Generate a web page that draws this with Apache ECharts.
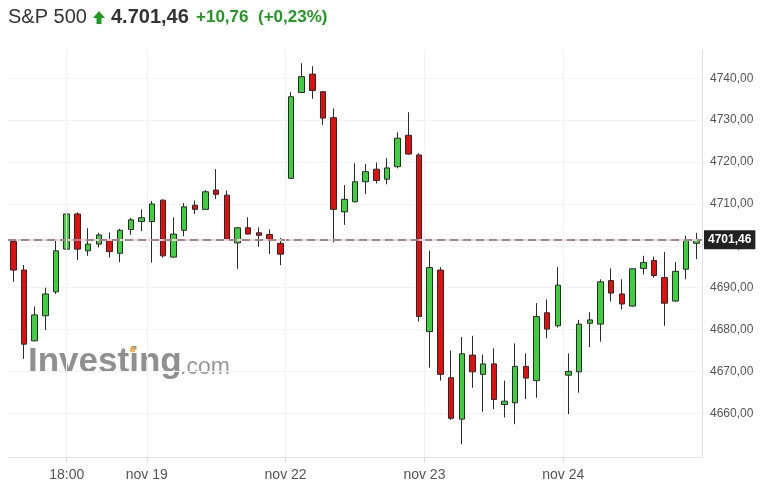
<!DOCTYPE html>
<html>
<head>
<meta charset="utf-8">
<script src="https://cdn.jsdelivr.net/npm/echarts@6/dist/echarts.min.js"></script>
<style>
html,body{margin:0;padding:0;background:#fff;}
#chart{width:781px;height:495px;}
</style>
</head>
<body>
<div id="chart"></div>
<script>
// ---- data ----
const days = ['nov 18', 'nov 19', 'nov 22', 'nov 23', 'nov 24'];
const times = ['15:30','16:00','16:30','17:00','17:30','18:00','18:30','19:00','19:30','20:00','20:30','21:00','21:30'];
const opens  = [4701.0,4694.2,4677.3,4683.3,4689.0,4699.2,4707.6,4698.8,4700.4,4701.4,4698.2,4703.9,4705.8,
                4705.8,4710.9,4697.3,4703.7,4709.7,4708.7,4713.3,4712.1,4700.7,4704.3,4703.1,4702.7,4700.6,
                4716.1,4736.6,4741.0,4736.8,4730.6,4708.1,4710.5,4715.3,4718.3,4715.9,4718.9,4726.4,4721.7,
                4679.5,4694.2,4668.5,4658.6,4673.9,4669.3,4671.8,4662.1,4662.5,4671.2,4667.8,4684.0,4680.9,
                4669.1,4669.9,4681.5,4681.3,4691.7,4688.5,4685.6,4694.6,4696.5,4692.4,4686.8,4694.4,4700.6];
const closes = [4694.2,4676.5,4683.5,4688.5,4698.8,4707.6,4699.2,4700.4,4702.6,4698.6,4703.7,4706.2,4706.7,
                4710.0,4697.6,4702.8,4709.3,4708.7,4712.9,4712.3,4701.3,4704.3,4702.8,4702.5,4701.3,4698.0,
                4735.6,4740.4,4737.1,4730.5,4708.7,4711.1,4715.3,4717.7,4715.6,4718.6,4725.7,4721.9,4683.1,
                4694.8,4669.3,4658.8,4674.2,4669.9,4671.8,4663.3,4662.9,4671.2,4668.4,4683.1,4680.1,4690.6,
                4670.0,4681.3,4682.3,4691.4,4688.7,4686.1,4694.5,4696.0,4692.9,4686.3,4693.9,4701.3,4701.46];
const lows   = [4691.4,4673.0,4677.2,4679.9,4688.5,4699.1,4696.6,4697.6,4699.6,4697.2,4696.1,4702.6,4703.5,
                4696.0,4697.2,4697.2,4702.3,4707.6,4708.6,4711.2,4701.2,4694.5,4702.7,4699.8,4698.0,4695.4,
                4716.0,4736.5,4735.1,4728.9,4700.8,4705.0,4710.4,4712.4,4714.9,4714.7,4718.5,4721.8,4681.9,
                4670.9,4667.8,4658.4,4652.6,4666.1,4660.4,4661.0,4659.0,4657.4,4663.4,4663.7,4677.9,4680.5,
                4659.8,4664.9,4675.8,4677.1,4686.7,4684.8,4685.5,4693.2,4692.4,4680.9,4686.7,4692.0,4696.8];
const highs  = [4701.3,4695.4,4685.5,4690.0,4701.2,4708.1,4708.0,4704.2,4703.1,4703.2,4704.1,4706.7,4708.7,
                4710.7,4711.1,4706.8,4710.2,4710.8,4713.3,4718.3,4713.2,4704.4,4706.8,4704.4,4703.9,4701.9,
                4736.7,4743.6,4742.9,4737.0,4732.8,4714.5,4719.7,4719.5,4719.9,4720.9,4727.1,4731.9,4722.1,
                4698.8,4694.9,4675.0,4678.2,4678.5,4674.0,4675.5,4667.8,4676.7,4674.3,4686.3,4687.2,4694.9,
                4674.3,4682.3,4684.2,4692.0,4694.6,4692.0,4694.6,4697.6,4697.4,4698.5,4696.1,4702.4,4703.1];
const lastPrice = 4701.46;
const yTicks = [4660, 4670, 4680, 4690, 4700, 4710, 4720, 4730, 4740];
const xTickPos = [5, 12.5, 25.5, 38.5, 51.5];
const xTickLabels = ['18:00', 'nov 19', 'nov 22', 'nov 23', 'nov 24'];
const headerName = 'S&P 500';
const headerPrice = '4.701,46';
const headerChange = '+10,76';
const headerPct = '(+0,23%)';

// ---- build ----
const categories = [];
days.forEach(d => times.forEach(t => categories.push(d + ' ' + t)));
const ohlc = opens.map((o, i) => [o, closes[i], lows[i], highs[i]]);
const fmt = v => v.toFixed(2).replace('.', ',');
const FONT = '"Liberation Sans", Arial, Helvetica, sans-serif';
const GREEN_TXT = '#1f9a1f';

const chart = echarts.init(document.getElementById('chart'), null, {renderer: 'canvas'});
chart.setOption({
  animation: false,
  backgroundColor: '#fff',
  textStyle: {fontFamily: FONT},
  grid: {left: 8, right: 79, top: 50, bottom: 38, containLabel: false},
  xAxis: [
    {
      type: 'category', data: categories, boundaryGap: true,
      axisLine: {show: true, onZero: false, lineStyle: {color: '#e2e2e2', width: 1}},
      axisTick: {show: false}, axisLabel: {show: false}, splitLine: {show: false}
    },
    {
      type: 'value', min: -0.5, max: 64.5, position: 'bottom',
      axisLine: {show: false, onZero: false},
      axisTick: {show: true, customValues: xTickPos, length: 6, lineStyle: {color: '#dcdcdc'}},
      axisLabel: {
        customValues: xTickPos, color: '#555', fontSize: 14, margin: 11, fontFamily: FONT,
        formatter: v => { const i = xTickPos.indexOf(v); return i >= 0 ? xTickLabels[i] : ''; }
      },
      splitLine: {show: false}
    }
  ],
  yAxis: {
    type: 'value', position: 'right', scale: true,
    min: 4649.56, max: 4746.76,
    axisLine: {show: true, onZero: false, lineStyle: {color: '#e2e2e2'}},
    axisTick: {show: false, customValues: yTicks},
    axisLabel: {customValues: yTicks, color: '#555', fontSize: 12, margin: 8, fontFamily: FONT, formatter: fmt},
    splitLine: {show: true, lineStyle: {color: '#f3f3f3'}}
  },
  graphic: [
    {type: 'text', left: 28, top: 345, z: 0, silent: true,
     style: {text: 'Investing', font: 'bold 35px ' + FONT, fill: 'rgba(125,125,125,0.85)'}},
    {type: 'text', left: 180, top: 356, z: 0, silent: true,
     style: {text: '.com', font: '23px ' + FONT, fill: 'rgba(135,135,135,0.85)'}},
    {type: 'rect', shape: {x: 130, y: 347, width: 5, height: 5}, z: 0, silent: true,
     style: {fill: 'rgba(245,170,60,0.85)'}},
    {type: 'text', x: 8, y: 17, z: 10,
     style: {text: headerName, font: '20px ' + FONT, fill: '#333', textVerticalAlign: 'middle'}},
    {type: 'polygon', z: 10,
     shape: {points: [[93, 18], [99, 11], [105, 18], [101.5, 18], [101.5, 24], [96.5, 24], [96.5, 18]]},
     style: {fill: GREEN_TXT}},
    {type: 'text', x: 111, y: 17, z: 10,
     style: {text: headerPrice, font: 'bold 20px ' + FONT, fill: '#333', textVerticalAlign: 'middle'}},
    {type: 'text', x: 196, y: 17, z: 10,
     style: {text: headerChange, font: 'bold 17px ' + FONT, fill: GREEN_TXT, textVerticalAlign: 'middle'}},
    {type: 'text', x: 258, y: 17, z: 10,
     style: {text: headerPct, font: 'bold 17px ' + FONT, fill: GREEN_TXT, textVerticalAlign: 'middle'}}
  ],
  series: [{
    type: 'candlestick',
    xAxisIndex: 0, yAxisIndex: 0,
    data: ohlc,
    barWidth: 6,
    z: 3,
    itemStyle: {
      color: '#3cd13c', color0: '#e50e0e',
      borderColor: '#2a2a2a', borderColor0: '#2a2a2a', borderWidth: 1
    },
    markLine: {
      silent: true, symbol: ['none', 'none'], animation: false,
      data: [
        {yAxis: lastPrice, lineStyle: {color: '#f5d0d8', width: 2, type: 'solid'}, label: {show: false}},
        {yAxis: lastPrice, lineStyle: {color: '#8c6a72', width: 1.5, type: [8, 5]},
         label: {show: true, position: 'end', distance: 2, formatter: fmt(lastPrice),
                 backgroundColor: '#222', color: '#fff', fontWeight: 'bold', fontSize: 12,
                 lineHeight: 13, padding: [3, 4, 3, 4], fontFamily: FONT}}
      ]
    }
  }, {
    type: 'line', xAxisIndex: 1, yAxisIndex: 0, data: [], z: 1, silent: true,
    markLine: {
      silent: true, symbol: ['none', 'none'], animation: false, label: {show: false},
      lineStyle: {color: '#f1f1f1', width: 1, type: 'solid'},
      data: xTickPos.map(p => ({xAxis: p}))
    }
  }]
});
</script>
</body>
</html>
